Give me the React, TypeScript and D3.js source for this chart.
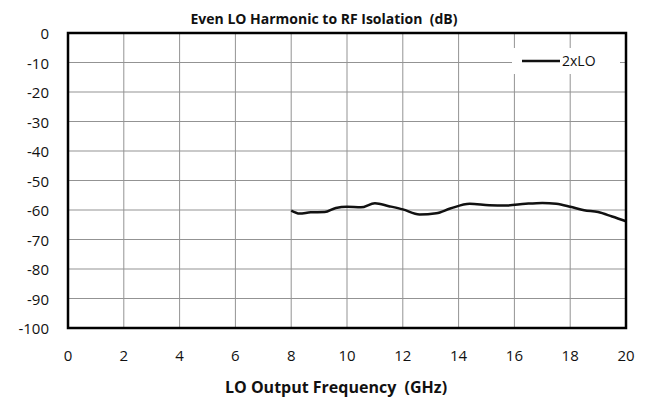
import React, { useEffect, useRef } from 'react';
import * as d3 from 'd3';

// 2xLO isolation curve
const freqGHz = [8, 8.3, 8.7, 9.2, 9.6, 10, 10.5, 11, 11.5, 12, 12.6, 13.2, 13.7, 14.4, 15.1, 15.7, 16.4, 17, 17.5, 18, 18.5, 19, 19.5, 20];
const isolationDb = [-60.2, -61.2, -60.8, -60.7, -59.3, -58.9, -59.1, -57.7, -58.7, -59.8, -61.5, -61.1, -59.5, -57.9, -58.4, -58.5, -57.9, -57.6, -57.9, -58.9, -60.1, -60.7, -62.2, -63.8];
const xTicks = [0, 2, 4, 6, 8, 10, 12, 14, 16, 18, 20];
const yTicks = [0, -10, -20, -30, -40, -50, -60, -70, -80, -90, -100];
const seriesName = '2xLO';

const FONT = "'Open Sans', 'Noto Sans', sans-serif";

const App: React.FC = () => {
  const svgRef = useRef<SVGSVGElement>(null);

  useEffect(() => {
    if (!svgRef.current) return;
    const root = d3.select(svgRef.current);
    root.selectAll('*').remove();

    const W = 653;
    const H = 404;
    const margin = { top: 33, right: 27, bottom: 76, left: 68 };
    const width = W - margin.left - margin.right;
    const height = H - margin.top - margin.bottom;

    root.append('rect').attr('width', W).attr('height', H).attr('fill', '#fff');

    const svg = root.append('g').attr('transform', `translate(${margin.left},${margin.top})`);

    const x = d3.scaleLinear().domain([0, 20]).range([0, width]);
    const y = d3.scaleLinear().domain([-100, 0]).range([height, 0]);

    // grid
    svg
      .append('g')
      .selectAll('line')
      .data(xTicks)
      .enter()
      .append('line')
      .attr('x1', (d) => x(d))
      .attr('x2', (d) => x(d))
      .attr('y1', 0)
      .attr('y2', height)
      .attr('stroke', '#939393')
      .attr('stroke-width', 1);

    svg
      .append('g')
      .selectAll('line')
      .data(yTicks)
      .enter()
      .append('line')
      .attr('x1', 0)
      .attr('x2', width)
      .attr('y1', (d) => y(d))
      .attr('y2', (d) => y(d))
      .attr('stroke', '#939393')
      .attr('stroke-width', 1);

    // tick labels
    svg
      .append('g')
      .selectAll('text')
      .data(xTicks)
      .enter()
      .append('text')
      .attr('x', (d) => x(d))
      .attr('y', height + 33)
      .attr('text-anchor', 'middle')
      .style('font-family', FONT)
      .style('font-size', '15px')
      .style('fill', '#111')
      .text((d) => String(d));

    svg
      .append('g')
      .selectAll('text')
      .data(yTicks)
      .enter()
      .append('text')
      .attr('x', -19)
      .attr('y', (d) => y(d) + 6)
      .attr('text-anchor', 'end')
      .style('font-family', FONT)
      .style('font-size', '15px')
      .style('fill', '#111')
      .text((d) => String(d));

    // data line
    const pts = freqGHz.map((f, i) => ({ f, v: isolationDb[i] }));
    const line = d3
      .line<{ f: number; v: number }>()
      .x((d) => x(d.f))
      .y((d) => y(d.v))
      .curve(d3.curveMonotoneX);

    svg
      .append('path')
      .datum(pts)
      .attr('fill', 'none')
      .attr('stroke', '#111')
      .attr('stroke-width', 2.5)
      .attr('d', line);

    // border
    svg
      .append('rect')
      .attr('width', width)
      .attr('height', height)
      .attr('fill', 'none')
      .attr('stroke', '#000')
      .attr('stroke-width', 2.5);

    // legend
    const legend = svg.append('g').attr('transform', `translate(${width - 114}, 15)`);
    legend.append('rect').attr('width', 108).attr('height', 26).attr('fill', '#fff');
    legend
      .append('line')
      .attr('x1', 10)
      .attr('x2', 48)
      .attr('y1', 13)
      .attr('y2', 13)
      .attr('stroke', '#111')
      .attr('stroke-width', 2.5);
    legend
      .append('text')
      .attr('x', 50)
      .attr('y', 18)
      .style('font-family', FONT)
      .style('font-size', '14px')
      .style('fill', '#111')
      .text(seriesName);

    // title + axis title
    root
      .append('text')
      .attr('x', 324)
      .attr('y', 24)
      .attr('text-anchor', 'middle')
      .style('font-family', FONT)
      .style('font-size', '14px')
      .style('font-weight', 'bold')
      .style('white-space', 'pre')
      .style('fill', '#111')
      .text('Even LO Harmonic to RF Isolation  (dB)');

    root
      .append('text')
      .attr('x', 336)
      .attr('y', 393)
      .attr('text-anchor', 'middle')
      .style('font-family', FONT)
      .style('font-size', '16px')
      .style('font-weight', 'bold')
      .style('white-space', 'pre')
      .style('fill', '#111')
      .text('LO Output Frequency  (GHz)');
  }, []);

  return (
    <svg
      ref={svgRef}
      width={653}
      height={404}
      style={{ position: 'absolute', left: 0, top: 0, display: 'block' }}
    />
  );
};

export default App;
